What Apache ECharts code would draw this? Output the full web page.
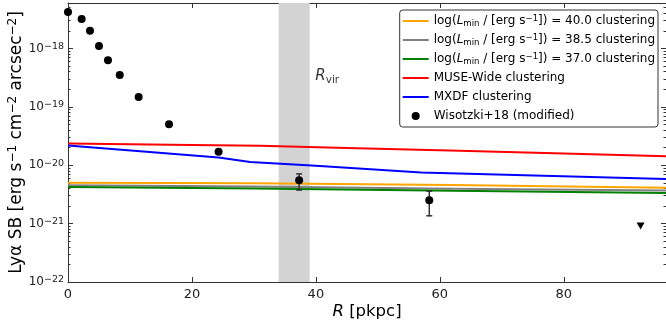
<!DOCTYPE html>
<html><head><meta charset="utf-8">
<script src="https://cdn.jsdelivr.net/npm/echarts@6/dist/echarts.min.js"></script>
<style>html,body{margin:0;padding:0;background:#fff}#c{width:666px;height:327px}</style>
</head><body><div id="c"></div>
<script>
// ---- data ----
const xTicks = [0, 20, 40, 60, 80];
const yMajorTicks = [1e-22, 1e-21, 1e-20, 1e-19, 1e-18];
const minorMantissas = [2, 3, 4, 5, 6, 7, 8, 9];
const yDecades = [1e-22, 1e-21, 1e-20, 1e-19, 1e-18];

const orangeR = [0, 30, 62, 96.5];
const orangeSB = [5.0e-21, 4.9e-21, 4.6e-21, 4.1e-21];
const grayR = [0, 30, 62, 96.5];
const graySB = [4.55e-21, 4.3e-21, 3.95e-21, 3.7e-21];
const greenR = [0, 30, 62, 96.5];
const greenSB = [4.25e-21, 4.0e-21, 3.65e-21, 3.35e-21];
const redR = [0, 20, 31, 45, 61.6, 80, 96.5];
const redSB = [2.36e-20, 2.22e-20, 2.15e-20, 1.98e-20, 1.79e-20, 1.59e-20, 1.43e-20];
const blueR = [0, 24.3, 29.4, 40, 57, 96.5];
const blueSB = [2.18e-20, 1.36e-20, 1.14e-20, 9.8e-21, 7.5e-21, 5.8e-21];

const wisR = [0, 2.2, 3.55, 5.0, 6.45, 8.35, 11.4, 16.3, 24.3, 37.3, 58.3];
const wisSB = [4.2e-18, 3.2e-18, 2.0e-18, 1.1e-18, 6.3e-19, 3.5e-19, 1.48e-19, 5.05e-20, 1.7e-20, 5.55e-21, 2.52e-21];
const errR = [37.3, 58.3];
const errLo = [3.75e-21, 1.36e-21];
const errHi = [7.1e-21, 3.6e-21];
const upperR = [92.4];
const upperSB = [9.1e-22];

const rvirBand = [34, 39];
const rvirLabelPos = [39.9, 3.3e-19];

const legendNames = [
  'log(L_min / [erg s^-1]) = 40.0 clustering',
  'log(L_min / [erg s^-1]) = 38.5 clustering',
  'log(L_min / [erg s^-1]) = 37.0 clustering',
  'MUSE-Wide clustering',
  'MXDF clustering',
  'Wisotzki+18 (modified)'
];
const legendRich = [
  'log({i|L}{sub|min} / [erg s{sup|−1}]) = 40.0 clustering',
  'log({i|L}{sub|min} / [erg s{sup|−1}]) = 38.5 clustering',
  'log({i|L}{sub|min} / [erg s{sup|−1}]) = 37.0 clustering',
  'MUSE-Wide clustering',
  'MXDF clustering',
  'Wisotzki+18 (modified)'
];
const lineColors = ['#ffa500', '#808080', '#008000', '#ff0000', '#0000ff'];

// ---- build ----
const FONT = 'DejaVu Sans';
const yMinorTicks = [];
yDecades.forEach(d => minorMantissas.forEach(m => yMinorTicks.push(m * d)));
const zip = (a, b) => a.map((v, i) => [v, b[i]]);
const YMIN = 1e-22, YMAX = 6e-18, XMAX = 96.5;

const axisCol = '#333';
function yAxisDef(pos, ticks, len, showLine, showLabel) {
  return {
    type: 'log', logBase: 10, min: YMIN, max: YMAX, position: pos,
    axisLine: {show: showLine, lineStyle: {color: axisCol, width: 1}},
    axisTick: {show: true, inside: true, length: len, customValues: ticks, lineStyle: {color: axisCol, width: 1}},
    axisLabel: showLabel ? {
      show: true, customValues: ticks, margin: 4, color: '#222', fontFamily: FONT, fontSize: 12, lineHeight: 14,
      formatter: v => { const e = Math.round(Math.log10(v)); return '10{sup|−' + (-e) + '}'; },
      rich: {sup: {fontSize: 9.5, lineHeight: 7, verticalAlign: 'top', fontFamily: FONT, color: '#222'}}
    } : {show: false},
    splitLine: {show: false}, minorTick: {show: false}
  };
}

const lineData = [[orangeR, orangeSB], [grayR, graySB], [greenR, greenSB], [redR, redSB], [blueR, blueSB]];
const series = [];
series.push({
  type: 'line', name: 'band', data: [], z: 1, silent: true,
  markArea: {silent: true, itemStyle: {color: '#d3d3d3', opacity: 1}, data: [[{xAxis: rvirBand[0]}, {xAxis: rvirBand[1]}]]}
});
lineData.forEach((d, i) => series.push({
  type: 'line', name: legendNames[i], data: zip(d[0], d[1]), symbol: 'none', z: 2 + i * 0.01,
  lineStyle: {color: lineColors[i], width: 2}, itemStyle: {color: lineColors[i]}
}));
series.push({
  type: 'custom', name: 'err', z: 3, silent: true,
  data: errR.map((r, i) => [r, errLo[i], errHi[i]]),
  encode: {x: 0, y: [1, 2]},
  renderItem: (params, api) => {
    const lo = api.coord([api.value(0), api.value(1)]);
    const hi = api.coord([api.value(0), api.value(2)]);
    const w = 3;
    const st = {stroke: '#333', lineWidth: 1.5};
    return {type: 'group', children: [
      {type: 'line', shape: {x1: lo[0], y1: lo[1], x2: hi[0], y2: hi[1]}, style: st},
      {type: 'line', shape: {x1: lo[0] - w, y1: lo[1], x2: lo[0] + w, y2: lo[1]}, style: st},
      {type: 'line', shape: {x1: hi[0] - w, y1: hi[1], x2: hi[0] + w, y2: hi[1]}, style: st}
    ]};
  }
});
series.push({
  type: 'scatter', name: legendNames[5], data: zip(wisR, wisSB), symbol: 'circle', symbolSize: 8,
  itemStyle: {color: '#000', opacity: 1}, z: 4
});
series.push({
  type: 'scatter', name: 'upper', data: zip(upperR, upperSB), symbol: 'triangle', symbolRotate: 180,
  symbolSize: [8, 7], itemStyle: {color: '#000', opacity: 1}, z: 4
});
series.push({
  type: 'scatter', name: 'rvir', data: [rvirLabelPos], symbolSize: 0, z: 5, silent: true,
  label: {show: true, position: 'right', distance: 0, formatter: '{i|R}{sub|vir}',
    rich: {i: {fontStyle: 'italic', fontSize: 15, fontFamily: FONT, color: '#000', lineHeight: 18},
           sub: {fontSize: 10.5, fontFamily: FONT, color: '#000', lineHeight: 8, verticalAlign: 'bottom'}}}
});

const lineIcon = 'path://M0,0 L26,0 L26,2 L0,2 Z';
const option = {
  animation: false,
  backgroundColor: '#fff',
  grid: {left: 68, right: 0, top: 3, bottom: 45, containLabel: false, outerBoundsMode: 'none'},
  legend: {
    orient: 'vertical', right: 8, top: 10, itemWidth: 26, itemHeight: 8, itemGap: 5, itemTextGap: 10,
    padding: [4, 3, 4, 3], borderColor: '#333', borderWidth: 1, borderRadius: 3, backgroundColor: 'rgba(255,255,255,0.85)',
    data: legendNames.map((n, i) => i < 5 ? {name: n, icon: lineIcon, itemStyle: {color: lineColors[i], opacity: 1}} : {name: n, icon: 'circle', itemStyle: {color: '#000', opacity: 1}}),
    formatter: name => legendRich[legendNames.indexOf(name)],
    textStyle: {fontSize: 12, color: '#000', fontFamily: FONT, lineHeight: 14,
      rich: {
        i: {fontStyle: 'italic', fontSize: 12, fontFamily: FONT, color: '#000'},
        sub: {fontSize: 8.5, lineHeight: 6, verticalAlign: 'bottom', fontFamily: FONT, color: '#000'},
        sup: {fontSize: 8.5, lineHeight: 8, verticalAlign: 'top', fontFamily: FONT, color: '#000'}
      }}
  },
  xAxis: [
    {type: 'value', min: 0, max: XMAX, position: 'bottom',
     axisLine: {show: true, onZero: false, lineStyle: {color: axisCol, width: 1}},
     axisTick: {inside: true, length: 5, customValues: xTicks, lineStyle: {color: axisCol}},
     axisLabel: {customValues: xTicks, fontSize: 13, color: '#222', margin: 6, fontFamily: FONT},
     splitLine: {show: false},
     name: '{i|R} [pkpc]', nameLocation: 'middle', nameGap: 20, nameMoveOverlap: false,
     nameTextStyle: {fontSize: 16.5, color: '#000', fontFamily: FONT, lineHeight: 20,
       rich: {i: {fontStyle: 'italic', fontSize: 16.5, fontFamily: FONT, color: '#000'}}}},
    {type: 'value', min: 0, max: XMAX, position: 'top',
     axisLine: {show: true, onZero: false, lineStyle: {color: axisCol, width: 1}},
     axisTick: {inside: true, length: 5, customValues: xTicks, lineStyle: {color: axisCol}},
     axisLabel: {show: false}, splitLine: {show: false}}
  ],
  yAxis: [
    Object.assign(yAxisDef('left', yMajorTicks, 5, true, true), {
      name: 'Lyα SB [erg s{sup|−1} cm{sup|−2} arcsec{sup|−2}]', nameLocation: 'middle', nameRotate: 90, nameGap: 41,
      nameMoveOverlap: false,
      nameTextStyle: {fontSize: 17, color: '#000', fontFamily: FONT, lineHeight: 20,
        rich: {sup: {fontSize: 12, lineHeight: 10, verticalAlign: 'top', fontFamily: FONT, color: '#000'}}}
    }),
    yAxisDef('left', yMinorTicks, 2.5, false, false),
    yAxisDef('right', yMajorTicks, 5, true, false),
    yAxisDef('right', yMinorTicks, 2.5, false, false)
  ],
  series: series
};
const chart = echarts.init(document.getElementById('c'), null, {renderer: 'canvas'});
chart.setOption(option);
</script>
</body></html>
